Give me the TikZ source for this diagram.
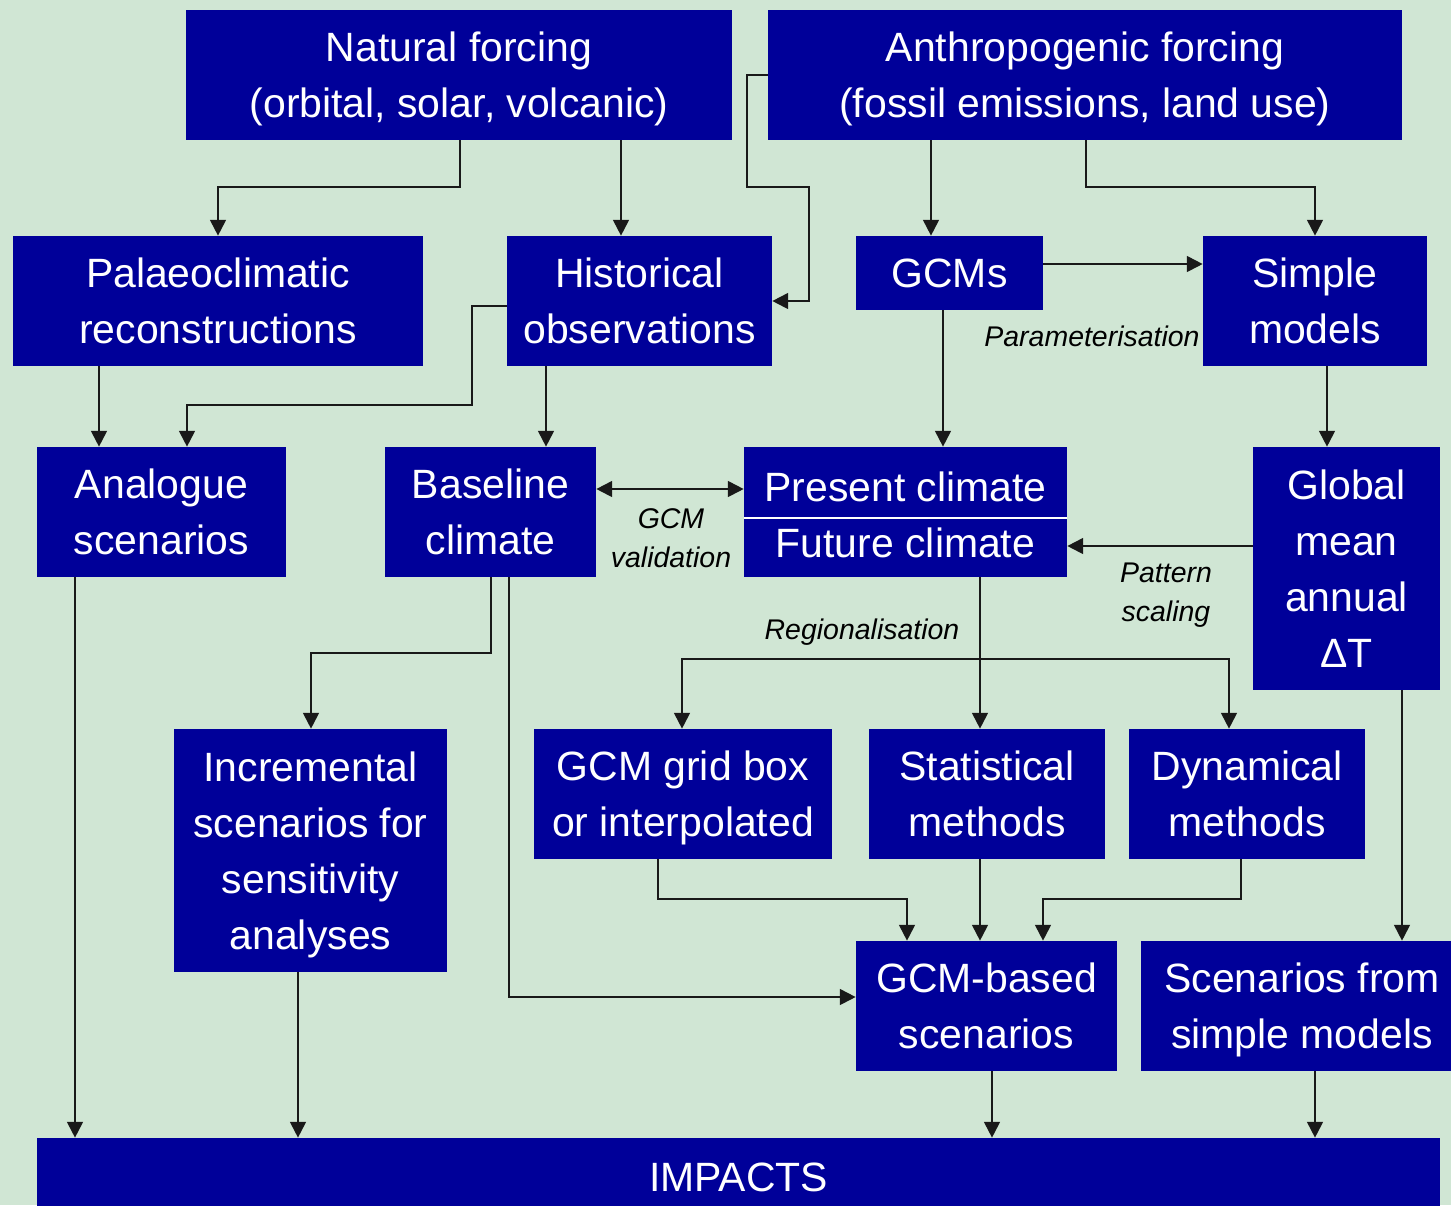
\documentclass[tikz,border=0pt]{standalone}
\usepackage{fontspec}
\setmainfont{Liberation Sans}
\usetikzlibrary{arrows.meta,calc}
\definecolor{bgcol}{RGB}{208,230,212}
\definecolor{boxcol}{RGB}{0,0,153}
\tikzset{wire/.style={line width=1.1pt, draw=black!90, -{Triangle[length=9pt,width=9pt]}},
  box/.style={fill=boxcol, text=white, inner sep=1pt, align=center, text depth=0pt,
    font=\fontsize{23.3}{31.9}\selectfont},
  note/.style={align=center, font=\fontsize{16.2}{22.2}\selectfont\itshape}}

\begin{document}
\begin{tikzpicture}[x=0.02cm, y=-0.02cm]
  \fill[bgcol] (0,0) rectangle (1451,1205);
  \useasboundingbox (0,0) rectangle (1451,1205);
  % top row
  \node[box, minimum width=10.92cm, minimum height=2.6cm] (nat) at (459,75) {Natural forcing\\(orbital, solar, volcanic)};
  \node[box, minimum width=12.68cm, minimum height=2.6cm] (ant) at (1085,75) {Anthropogenic forcing\\(fossil emissions, land use)};
  % second row
  \node[box, minimum width=8.2cm, minimum height=2.6cm] (pal) at (218,301) {Palaeoclimatic\\reconstructions};
  \node[box, minimum width=5.3cm, minimum height=2.6cm] (his) at (639.5,301) {Historical\\observations};
  \node[box, minimum width=3.74cm, minimum height=1.48cm] (gcm) at (949.5,273) {GCMs};
  \node[box, minimum width=4.48cm, minimum height=2.6cm] (sim) at (1315,301) {Simple\\models};
  % third row
  \node[box, minimum width=4.98cm, minimum height=2.6cm] (ana) at (161.5,512) {Analogue\\scenarios};
  \node[box, minimum width=4.22cm, minimum height=2.6cm] (bas) at (490.5,512) {Baseline\\climate};
  \node[box, minimum width=6.46cm, minimum height=1.42cm, text height=21.6pt] (pres) at (905.5,482.5) {Present climate};
  \node[box, minimum width=6.46cm, minimum height=1.18cm, text height=17pt, text depth=5.5pt] (fut) at (905.5,547.5) {Future climate};
  \draw[white, line width=1.2pt] (fut.north west) -- (fut.north east);
  \node[box, minimum width=3.74cm, minimum height=4.86cm] (glo) at (1346.5,568.5) {Global\\mean\\annual\\ΔT};
  % fourth row
  \node[box, minimum width=5.46cm, minimum height=4.86cm] (inc) at (310.5,850.5) {Incremental\\scenarios for\\sensitivity\\analyses};
  \node[box, minimum width=5.96cm, minimum height=2.6cm] (grid) at (683,794) {GCM grid box\\or interpolated};
  \node[box, minimum width=4.72cm, minimum height=2.6cm] (sta) at (987,794) {Statistical\\methods};
  \node[box, minimum width=4.72cm, minimum height=2.6cm] (dyn) at (1247,794) {Dynamical\\methods};
  % fifth row
  \node[box, minimum width=5.22cm, minimum height=2.6cm] (gbs) at (986.5,1006) {GCM-based\\scenarios};
  \node[box, minimum width=6.44cm, minimum height=2.6cm] (ssm) at (1302,1006) {Scenarios from\\simple models};
  \node[box, minimum width=28.06cm, minimum height=1.56cm] (imp) at (738.5,1177) {IMPACTS};

  % forcing
  \draw[wire] (nat.south -| 460,0) |- (218,187) -- (pal.north -| 218,0);
  \draw[wire] (nat.south -| 621,0) -- (his.north -| 621,0);
  \draw[wire] (ant.west) -- (747,75) -- (747,187) -- (809,187) |- (his.east);
  \draw[wire] (ant.south -| 931,0) -- (gcm.north -| 931,0);
  \draw[wire] (ant.south -| 1086,0) |- (1315,187) -- (sim.north);
  \draw[wire] (gcm.east |- 0,264) -- (sim.west |- 0,264);
  \node[note] (par) at (1092,336) {Parameterisation};
  % observations
  \draw[wire] (pal.south -| 99,0) -- (ana.north -| 99,0);
  \draw[wire] (his.west |- 0,306) -| (472,405) -| (ana.north -| 187,0);
  \draw[wire] (his.south -| 546,0) -- (bas.north -| 546,0);
  \draw[wire] (gcm.south -| 943,0) -- (pres.north -| 943,0);
  \draw[wire] (sim.south -| 1327,0) -- (glo.north -| 1327,0);
  \draw[wire, {Triangle[length=9pt,width=9pt]}-{Triangle[length=9pt,width=9pt]}] (bas.east |- 0,489) -- (pres.west |- 0,489);
  \node[note] (val) at (671,538) {GCM\\validation};
  \draw[wire] (glo.west |- 0,546) -- (fut.east |- 0,546);
  \node[note] (pat) at (1166,595) {Pattern\\scaling};
  % regionalisation
  \coordinate (reg) at (980,659);
  \draw[wire] (fut.south -| 980,0) -- (sta.north -| 980,0);
  \draw[wire] (reg) -| (grid.north -| 682,0);
  \draw[wire] (reg) -| (dyn.north -| 1229,0);
  \node[note] (rgl) at (862,632) {Regionalisation};
  \draw[wire] (bas.south -| 491,0) |- (311,653) -- (inc.north -| 311,0);
  \draw[wire] (bas.south -| 509,0) |- (gbs.west |- 0,997);
  \draw[wire] (grid.south -| 658,0) |- (907,899) -- (gbs.north -| 907,0);
  \draw[wire] (sta.south -| 980,0) -- (gbs.north -| 980,0);
  \draw[wire] (dyn.south -| 1241,0) |- (1043,899) -- (gbs.north -| 1043,0);
  \draw[wire] (glo.south -| 1402,0) -- (ssm.north -| 1402,0);
  % impacts
  \draw[wire] (ana.south -| 75,0) -- (imp.north -| 75,0);
  \draw[wire] (inc.south -| 298,0) -- (imp.north -| 298,0);
  \draw[wire] (gbs.south -| 992,0) -- (imp.north -| 992,0);
  \draw[wire] (ssm.south -| 1315,0) -- (imp.north -| 1315,0);
\end{tikzpicture}
\end{document}
